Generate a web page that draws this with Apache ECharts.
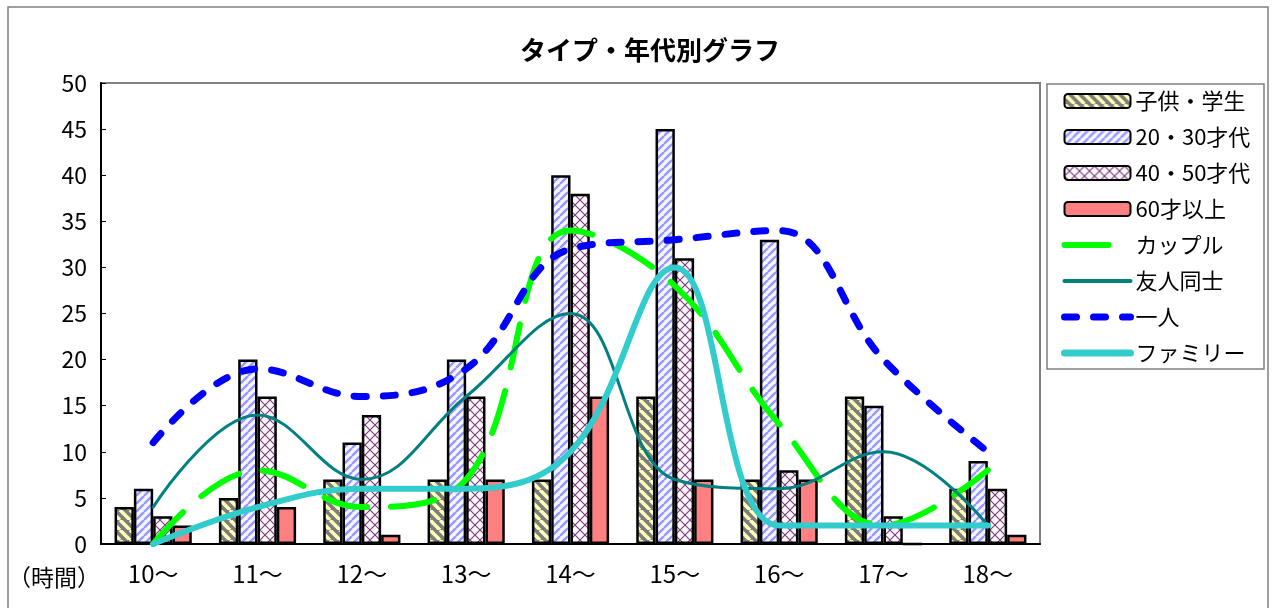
<!DOCTYPE html>
<html>
<head>
<meta charset="utf-8">
<script src="https://cdn.jsdelivr.net/npm/echarts@6/dist/echarts.min.js"></script>
<style>
    html, body { margin: 0; padding: 0; background: #fff; }
    #chart { width: 1276px; height: 608px; }
</style>
</head>
<body>
<div id="chart"></div>
<script>
// 時間帯
const hours = ['10～', '11～', '12～', '13～', '14～', '15～', '16～', '17～', '18～'];

// 棒グラフ
const kids = [4, 5, 7, 7, 7, 16, 7, 16, 6];
const age2030 = [6, 20, 11, 20, 40, 45, 33, 15, 9];
const age4050 = [3, 16, 14, 16, 38, 31, 8, 3, 6];
const age60 = [2, 4, 1, 7, 16, 7, 7, 0, 1];

// 折れ線
const couple = [0, 8, 4, 7, 34, 28, 13, 2, 8];
const friends = [4, 14, 7, 16, 25, 7, 6, 10, 2];
const alone = [11, 19, 16, 19, 32, 33, 34, 20, 10];
const family = [0, 4, 6, 6, 10, 30, 2, 2, 2];

const yTicks = [0, 5, 10, 15, 20, 25, 30, 35, 40, 45, 50];

const FONT = "'Noto Sans CJK JP', 'Noto Sans', sans-serif";

// 模様用のタイル
function makePattern(size, draw) {
    let c = document.createElement('canvas');
    c.width = size;
    c.height = size;
    draw(c.getContext('2d'), size);
    return { image: c, repeat: 'repeat' };
}

const kidsPattern = makePattern(10, (ctx, s) => {
    ctx.fillStyle = '#7C7C7C';
    ctx.fillRect(0, 0, s, s);
    ctx.strokeStyle = '#FFFFB8';
    ctx.lineWidth = 3.5;
    for (let k = -1; k <= 1; k++) {
        ctx.beginPath();
        ctx.moveTo(k * s, 0);
        ctx.lineTo(k * s + s, s);
        ctx.stroke();
    }
});

const p2030Pattern = makePattern(8, (ctx, s) => {
    ctx.fillStyle = '#F6F6FF';
    ctx.fillRect(0, 0, s, s);
    ctx.strokeStyle = '#9999FF';
    ctx.lineWidth = 2.4;
    for (let k = -1; k <= 1; k++) {
        ctx.beginPath();
        ctx.moveTo(k * s, s);
        ctx.lineTo(k * s + s, 0);
        ctx.stroke();
    }
});

const p4050Pattern = makePattern(10, (ctx, s) => {
    ctx.fillStyle = '#FCF8FC';
    ctx.fillRect(0, 0, s, s);
    ctx.strokeStyle = '#7A3A7A';
    ctx.lineWidth = 1.1;
    ctx.beginPath();
    ctx.moveTo(0, 0);
    ctx.lineTo(s, s);
    ctx.moveTo(s, 0);
    ctx.lineTo(0, s);
    ctx.stroke();
});

function barSeries(name, data, color) {
    return {
        name: name,
        type: 'bar',
        data: data,
        barGap: '0%',
        barCategoryGap: '26%',
        itemStyle: { color: color, borderColor: '#000', borderWidth: 2.5 },
        z: 2
    };
}

function lineSeries(name, data, color, width, dash) {
    return {
        name: name,
        type: 'line',
        data: data,
        smooth: 0.4,
        symbol: 'none',
        lineStyle: { color: color, width: width, type: dash, cap: 'round' },
        itemStyle: { color: color },
        z: 3
    };
}

// 凡例の線は太さを指定しないと細くなる
function lineLegend(name, width) {
    return { name: name, itemStyle: { opacity: 0 }, lineStyle: { width: width } };
}

let myChart = echarts.init(document.getElementById('chart'), null, { renderer: 'canvas' });
let option = {
    animation: false,
    backgroundColor: '#fff',
    textStyle: { fontFamily: FONT },
    title: {
        text: 'タイプ・年代別グラフ',
        left: 645,
        textAlign: 'center',
        top: 32,
        textStyle: { fontSize: 26, fontWeight: 'bold', color: '#000', fontFamily: FONT }
    },
    graphic: [
        {
            // 外枠
            type: 'rect',
            shape: { x: 8, y: 7, width: 1260, height: 620 },
            style: { fill: 'none', stroke: '#808080', lineWidth: 1.5 },
            silent: true
        },
        {
            // 凡例の枠
            type: 'rect',
            shape: { x: 1047, y: 84, width: 217, height: 285 },
            style: { fill: 'none', stroke: '#808080', lineWidth: 1.5 },
            silent: true
        },
        {
            type: 'text',
            left: 8,
            top: 566,
            style: { text: '（時間）', fontSize: 23, fill: '#000', fontFamily: FONT }
        }
    ],
    legend: {
        orient: 'vertical',
        left: 1061,
        top: 90,
        padding: 0,
        itemGap: 14,
        itemWidth: 66,
        itemHeight: 14,
        textStyle: { fontSize: 22, lineHeight: 22, color: '#000', fontFamily: FONT },
        data: [
            '子供・学生', '20・30才代', '40・50才代', '60才以上',
            lineLegend('カップル', 6),
            lineLegend('友人同士', 4),
            lineLegend('一人', 7),
            lineLegend('ファミリー', 7)
        ]
    },
    grid: {
        left: 101,
        right: 236,
        top: 83,
        bottom: 64,
        show: true,
        borderColor: '#808080',
        borderWidth: 2
    },
    xAxis: {
        type: 'category',
        data: hours,
        axisLine: { lineStyle: { color: '#000', width: 2 } },
        axisTick: { inside: true, length: 6, lineStyle: { color: '#808080' } },
        axisLabel: { fontSize: 24, color: '#000', margin: 18, fontFamily: FONT }
    },
    yAxis: {
        type: 'value',
        min: yTicks[0],
        max: yTicks[yTicks.length - 1],
        interval: 5,
        splitLine: { show: false },
        axisLine: { show: true, lineStyle: { color: '#000', width: 2 } },
        axisTick: { show: true, inside: true, length: 5, lineStyle: { color: '#000' } },
        axisLabel: { fontSize: 23, color: '#000', margin: 14, fontFamily: FONT }
    },
    series: [
        barSeries('子供・学生', kids, kidsPattern),
        barSeries('20・30才代', age2030, p2030Pattern),
        barSeries('40・50才代', age4050, p4050Pattern),
        barSeries('60才以上', age60, '#FF8080'),
        lineSeries('カップル', couple, '#00FF00', 6, [44, 24]),
        lineSeries('友人同士', friends, '#008080', 3, 'solid'),
        lineSeries('一人', alone, '#0000FF', 7, [12, 17]),
        lineSeries('ファミリー', family, '#33CCCC', 6, 'solid')
    ]
};
myChart.setOption(option);
</script>
</body>
</html>
